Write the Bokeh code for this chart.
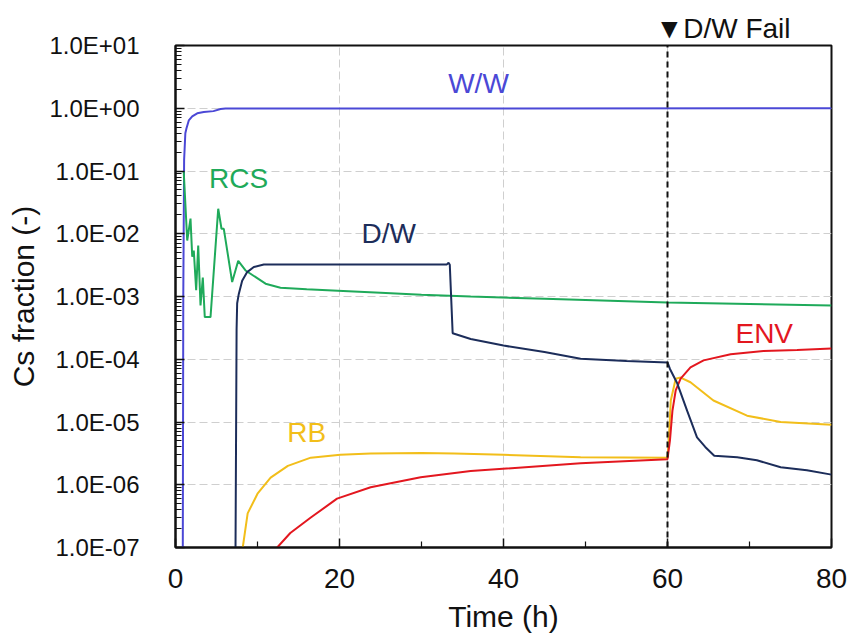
from bokeh.plotting import figure
from bokeh.models import Range1d, FixedTicker, CustomJSTickFormatter, Label
from bokeh.embed import file_html
from bokeh.resources import INLINE

# ---------------- data ----------------
ww_t = [0.89, 0.95, 1.05, 1.2, 1.34, 1.62, 2.04, 2.65, 3.45, 4.63, 5.49, 6.1, 80.0]
ww_y = [1e-7, 1e-3, 0.15, 0.40, 0.48, 0.64, 0.74, 0.83, 0.87, 0.90, 0.97, 0.99, 1.0]

rcs_t = [1.0, 1.43, 1.83, 2.04, 2.23, 2.52, 2.77, 3.05, 3.33, 3.57, 4.27, 5.21, 5.61,
         5.89, 6.91, 7.65, 8.54, 10.98, 12.8, 16.0, 19.8, 25.0, 30.0, 36.0, 45.0, 50.0,
         60.0, 70.0, 80.0]
rcs_y = [0.1, 0.0078, 0.0174, 0.0043, 0.0054, 0.00126, 0.0065, 0.00072, 0.002, 0.00047,
         0.00047, 0.025, 0.012, 0.012, 0.0017, 0.0037, 0.0026, 0.0016, 0.00138, 0.0013,
         0.00124, 0.00115, 0.00107, 0.001, 0.00092, 0.00088, 0.00080, 0.00076, 0.00072]

dw_t = [7.32, 7.45, 7.52, 7.72, 8.13, 8.74, 9.55, 10.77, 20.0, 33.1, 33.3, 33.45, 33.8,
        36.0, 40.0, 45.0, 49.4, 55.0, 60.0, 60.3, 61.2, 62.4, 63.6, 64.6, 65.7, 68.5,
        70.9, 73.8, 77.0, 80.0]
dw_y = [1e-7, 3e-4, 7.8e-4, 1.1e-3, 1.78e-3, 2.45e-3, 2.95e-3, 3.24e-3, 3.25e-3, 3.25e-3,
        3.45e-3, 3.2e-3, 2.6e-4, 2.1e-4, 1.65e-4, 1.3e-4, 1.02e-4, 9.4e-5, 8.9e-5, 7.0e-5,
        4.1e-5, 1.5e-5, 5.7e-6, 4.0e-6, 2.9e-6, 2.75e-6, 2.45e-6, 1.9e-6, 1.7e-6, 1.45e-6]

rb_t = [8.2, 8.8, 10.0, 11.6, 13.7, 16.5, 20.1, 23.8, 30.0, 34.0, 40.0, 49.4, 60.0,
        60.2, 60.4, 61.0, 61.6, 62.8, 65.6, 69.7, 73.8, 80.0]
rb_y = [1e-7, 3.5e-7, 7.2e-7, 1.3e-6, 2.0e-6, 2.7e-6, 3.0e-6, 3.15e-6, 3.2e-6, 3.15e-6,
        3.0e-6, 2.75e-6, 2.7e-6, 6.5e-6, 2.2e-5, 4.9e-5, 5.1e-5, 4.3e-5, 2.2e-5, 1.26e-5,
        1.0e-5, 9.0e-6]

env_t = [12.4, 14.0, 16.5, 19.7, 23.8, 29.9, 36.0, 49.4, 60.0, 60.3, 60.6, 61.0, 61.6,
         62.8, 64.4, 67.7, 71.7, 75.8, 80.0]
env_y = [1e-7, 1.7e-7, 3.0e-7, 6.0e-7, 9.1e-7, 1.32e-6, 1.65e-6, 2.2e-6, 2.55e-6, 5.1e-6,
         1.5e-5, 3.2e-5, 4.9e-5, 7.4e-5, 9.6e-5, 1.2e-4, 1.35e-4, 1.41e-4, 1.48e-4]

fail_t = 60.0
fail_text = "▼D/W Fail"
x_ticks = [0, 20, 40, 60, 80]
x_minor = [10, 30, 50, 70]
y_ticks = [10.0 ** e for e in range(-7, 2)]
y_minor = [m * 10.0 ** e for e in range(-7, 1) for m in range(2, 10)]

C_WW, C_RCS, C_DW, C_RB, C_ENV = "#4B48D6", "#1FAA5A", "#1C2D5A", "#F2BE1A", "#E3171F"
FONT = "Liberation Sans"

# ---------------- figure ----------------
p = figure(width=850, height=639, output_backend="svg", toolbar_location=None,
           y_axis_type="log", x_range=Range1d(0, 80), y_range=Range1d(1e-7, 10),
           min_border_left=175, min_border_right=19, min_border_top=45,
           min_border_bottom=92)
p.background_fill_color = "white"
p.border_fill_color = "white"
p.outline_line_color = "#111111"
p.outline_line_width = 2
p.outline_line_alpha = 1

# title used as the "D/W Fail" marker above the frame
p.title.text = fail_text
p.title.align = "left"
p.title.offset = 480
p.title.text_font = FONT
p.title.text_font_size = "28px"
p.title.text_font_style = "normal"
p.title.text_color = "#111111"
p.title.standoff = 4

p.xaxis.ticker = FixedTicker(ticks=x_ticks, minor_ticks=x_minor)
p.yaxis.ticker = FixedTicker(ticks=y_ticks, minor_ticks=y_minor)
p.yaxis.formatter = CustomJSTickFormatter(code="""
const e = Math.round(Math.log10(tick));
const s = e < 0 ? "-" : "+";
const a = Math.abs(e);
return "1.0E" + s + (a < 10 ? "0" + a : "" + a);
""")

for ax in (p.xaxis[0], p.yaxis[0]):
    ax.axis_line_color = "#111111"
    ax.axis_line_width = 2
    ax.major_tick_in = 9
    ax.major_tick_out = 0
    ax.minor_tick_in = 6
    ax.minor_tick_out = 0
    ax.major_tick_line_color = "#111111"
    ax.minor_tick_line_color = "#111111"
    ax.major_tick_line_width = 1.5
    ax.minor_tick_line_width = 1.2
    ax.major_label_text_font = FONT
    ax.axis_label_text_font = FONT
    ax.major_label_text_color = "#111111"
    ax.axis_label_text_color = "#111111"
    ax.axis_label_text_font_style = "normal"

p.xaxis.axis_label = "Time (h)"
p.xaxis.major_label_text_font_size = "28px"
p.xaxis.axis_label_text_font_size = "30px"
p.xaxis.major_label_standoff = 21
p.xaxis.axis_label_standoff = 9

p.yaxis.axis_label = "Cs fraction (-)"
p.yaxis.major_label_text_font_size = "24px"
p.yaxis.axis_label_text_font_size = "30px"
p.yaxis.major_label_standoff = 36
p.yaxis.axis_label_standoff = 6

for g in (p.xgrid[0], p.ygrid[0]):
    g.grid_line_color = "#cfcfcf"
    g.grid_line_dash = "8 4"
    g.grid_line_width = 1

# ---------------- series ----------------
p.line(ww_t, ww_y, line_color=C_WW, line_width=2)
p.line(rcs_t, rcs_y, line_color=C_RCS, line_width=2)
p.line(rb_t, rb_y, line_color=C_RB, line_width=2)
p.line(env_t, env_y, line_color=C_ENV, line_width=2)
p.line(dw_t, dw_y, line_color=C_DW, line_width=2)

# D/W failure time
p.line([fail_t, fail_t], [1e-7, 10], line_color="#111111", line_width=2, line_dash="6 4")

# series labels
labels = [("W/W", 36.95, 2.48, C_WW), ("RCS", 7.7, 0.076, C_RCS),
          ("D/W", 26.0, 0.0101, C_DW), ("RB", 16.0, 6.8e-6, C_RB),
          ("ENV", 71.8, 2.57e-4, C_ENV)]
for txt, lx, ly, col in labels:
    p.add_layout(Label(x=lx, y=ly, text=txt, text_font=FONT, text_font_size="28px",
                       text_color=col, text_align="center", text_baseline="middle"))

open("out.html", "w").write(file_html(p, INLINE))
